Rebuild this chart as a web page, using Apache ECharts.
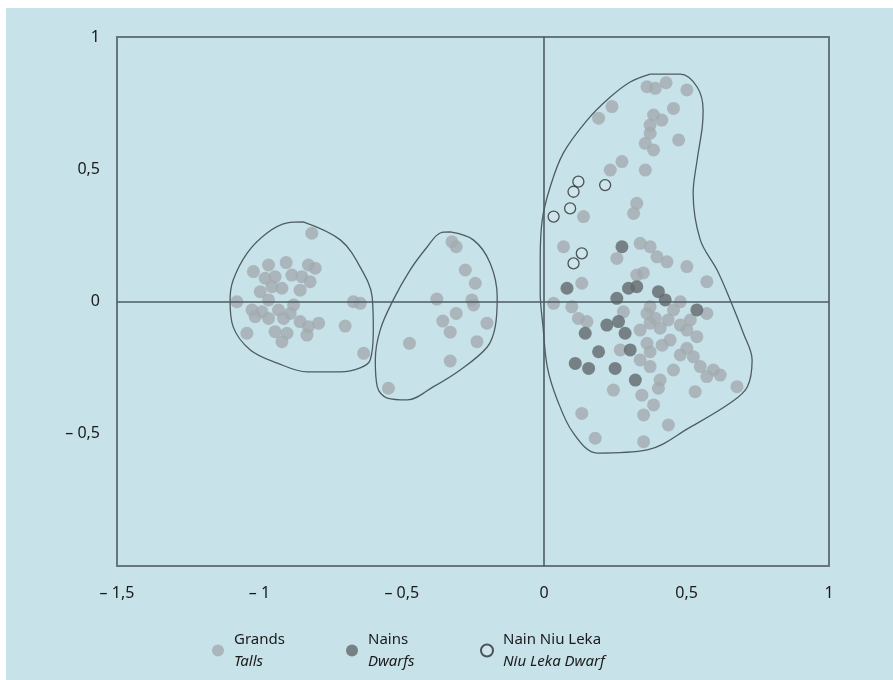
<!DOCTYPE html>
<html>
<head>
<meta charset="utf-8">
<script src="https://cdn.jsdelivr.net/npm/echarts@6/dist/echarts.min.js"></script>
<style>
  html, body { margin: 0; padding: 0; background: #ffffff; }
  #panel { position: absolute; left: 6px; top: 8px; right: 0; bottom: 0; background: #c8e2e9; }
  #chart { position: absolute; left: 0; top: 0; width: 893px; height: 680px; }
</style>
</head>
<body>
<div id="panel"></div>
<div id="chart"></div>
<script>
// Axis ticks and their printed labels (French decimal comma)
const xTicks = [-1.5, -1, -0.5, 0, 0.5, 1];
const xTickLabels = ['– 1,5', '– 1', '– 0,5', '0', '0,5', '1'];
const yTicks = [-1, -0.5, 0, 0.5, 1];
const yTickLabels = ['', '– 0,5', '0', '0,5', '1'];

// Groups: name and English subtitle for the legend
const groupNames = ['Grands', 'Nains', 'Nain Niu Leka'];
const groupSubtitles = ['Talls', 'Dwarfs', 'Niu Leka Dwarf'];

// Talls (coconut palms, tall type)
const talls = [
  // western group
  [-0.816, 0.258], [-1.021, 0.113], [-0.968, 0.138], [-0.906, 0.147], [-0.828, 0.138],
  [-0.804, 0.126], [-0.980, 0.088], [-0.945, 0.094], [-0.886, 0.100], [-0.851, 0.094],
  [-0.822, 0.075], [-0.997, 0.037], [-0.956, 0.056], [-0.921, 0.050], [-0.857, 0.043],
  [-1.079, -0.001], [-0.968, 0.006], [-0.880, -0.013], [-0.670, -0.001], [-0.646, -0.007],
  [-1.026, -0.032], [-0.991, -0.039], [-0.933, -0.032], [-0.892, -0.045], [-1.015, -0.057],
  [-0.968, -0.064], [-0.915, -0.064], [-0.857, -0.076], [-0.792, -0.082], [-0.828, -0.095],
  [-0.699, -0.093], [-1.044, -0.120], [-0.945, -0.114], [-0.903, -0.120], [-0.833, -0.127],
  [-0.921, -0.152], [-0.634, -0.196],
  // central group
  [-0.324, 0.226], [-0.309, 0.207], [-0.277, 0.119], [-0.242, 0.069], [-0.377, 0.009],
  [-0.254, 0.006], [-0.248, -0.013], [-0.309, -0.045], [-0.356, -0.074], [-0.201, -0.082],
  [-0.330, -0.116], [-0.473, -0.158], [-0.236, -0.152], [-0.330, -0.225], [-0.547, -0.328],
  // eastern group
  [0.361, 0.812], [0.390, 0.806], [0.428, 0.827], [0.501, 0.800], [0.238, 0.737],
  [0.191, 0.693], [0.384, 0.705], [0.454, 0.730], [0.372, 0.667], [0.413, 0.686],
  [0.372, 0.636], [0.472, 0.611], [0.355, 0.598], [0.384, 0.573], [0.273, 0.529],
  [0.232, 0.497], [0.355, 0.497], [0.325, 0.371], [0.314, 0.333], [0.138, 0.321],
  [0.068, 0.207], [0.337, 0.220], [0.372, 0.207], [0.255, 0.163], [0.396, 0.169],
  [0.431, 0.150], [0.501, 0.132], [0.571, 0.075], [0.132, 0.069], [0.325, 0.100],
  [0.348, 0.108],
  [0.033, -0.007], [0.097, -0.020], [0.120, -0.064], [0.150, -0.076], [0.278, -0.039],
  [0.372, -0.020], [0.361, -0.045], [0.454, -0.032], [0.478, -0.001], [0.571, -0.045],
  [0.372, -0.082], [0.407, -0.101], [0.337, -0.108], [0.478, -0.089], [0.501, -0.108],
  [0.536, -0.133], [0.361, -0.158], [0.442, -0.146], [0.501, -0.177], [0.372, -0.190],
  [0.478, -0.202], [0.524, -0.209], [0.267, -0.183], [0.337, -0.221], [0.372, -0.246],
  [0.454, -0.259], [0.548, -0.246], [0.594, -0.259], [0.618, -0.278], [0.571, -0.284],
  [0.407, -0.297], [0.401, -0.328], [0.243, -0.335], [0.343, -0.354], [0.530, -0.341],
  [0.677, -0.322], [0.384, -0.391], [0.132, -0.423], [0.349, -0.429], [0.436, -0.467],
  [0.179, -0.517], [0.349, -0.530],
  [0.390, -0.063], [0.435, -0.070], [0.414, -0.165], [0.513, -0.070]
];

// Dwarfs
const dwarfs = [
  [0.273, 0.207], [0.080, 0.050], [0.296, 0.050], [0.325, 0.056], [0.401, 0.037],
  [0.425, 0.006], [0.255, 0.012], [0.536, -0.032], [0.220, -0.089], [0.261, -0.076],
  [0.144, -0.120], [0.284, -0.120], [0.302, -0.183], [0.191, -0.190], [0.109, -0.234],
  [0.156, -0.253], [0.249, -0.253], [0.320, -0.297]
];

// Niu Leka dwarf
const niuLeka = [
  [0.120, 0.453], [0.103, 0.415], [0.214, 0.440], [0.091, 0.352], [0.033, 0.321],
  [0.132, 0.182], [0.103, 0.144]
];

// Outlines drawn around each group
const hullWest = [
  [-0.846, 0.301], [-0.716, 0.233], [-0.646, 0.130], [-0.604, 0.017], [-0.600, -0.108],
  [-0.611, -0.221], [-0.646, -0.251], [-0.716, -0.266], [-0.832, -0.266], [-0.937, -0.233],
  [-1.032, -0.183], [-1.092, -0.096], [-1.103, 0.006], [-1.092, 0.081], [-1.043, 0.183],
  [-0.973, 0.259], [-0.902, 0.297], [-0.846, 0.301]
];
const hullCentre = [
  [-0.330, 0.263], [-0.249, 0.233], [-0.190, 0.146], [-0.165, 0.017], [-0.172, -0.096],
  [-0.200, -0.172], [-0.295, -0.259], [-0.390, -0.323], [-0.481, -0.372], [-0.551, -0.365],
  [-0.586, -0.323], [-0.593, -0.221], [-0.576, -0.108], [-0.530, 0.006], [-0.471, 0.119],
  [-0.411, 0.206], [-0.365, 0.259], [-0.330, 0.263]
];
const hullEast = [
  [0.372, 0.860], [0.478, 0.860], [0.537, 0.811], [0.558, 0.724], [0.555, 0.659],
  [0.537, 0.535], [0.523, 0.410], [0.548, 0.233], [0.607, 0.119], [0.653, 0.006],
  [0.699, -0.119], [0.730, -0.221], [0.713, -0.323], [0.653, -0.384], [0.513, -0.475],
  [0.362, -0.561], [0.186, -0.573], [0.102, -0.497], [0.046, -0.372], [0.011, -0.248],
  [-0.004, -0.096], [-0.014, 0.032], [-0.014, 0.157], [-0.007, 0.308], [0.021, 0.433],
  [0.067, 0.561], [0.151, 0.686], [0.232, 0.773], [0.302, 0.830], [0.372, 0.860]
];

const FONT = '"Noto Sans", "Open Sans", sans-serif';
const LINE = '#4d5c62';

function legendFor(i, left) {
  return {
    data: [groupNames[i]],
    left: left,
    top: 627,
    orient: 'horizontal',
    icon: 'circle',
    itemWidth: 22,
    itemHeight: 12,
    selectedMode: false,
    formatter: name => '{a|' + name + '}\n{b|' + groupSubtitles[groupNames.indexOf(name)] + '}',
    textStyle: {
      fontFamily: FONT,
      color: '#1a1a1a',
      rich: {
        a: { fontFamily: FONT, fontSize: 15, color: '#1a1a1a', lineHeight: 22 },
        b: { fontFamily: FONT, fontSize: 15, fontStyle: 'italic', color: '#1a1a1a', lineHeight: 22 }
      }
    }
  };
}

function hullSeries(name, data) {
  return {
    name: name,
    type: 'line',
    data: data,
    smooth: 0.35,
    showSymbol: false,
    silent: true,
    z: 4,
    lineStyle: { color: LINE, width: 1.3 }
  };
}

const chart = echarts.init(document.getElementById('chart'), null, { renderer: 'canvas' });
chart.setOption({
  backgroundColor: 'transparent',
  animation: false,
  grid: {
    left: 117, right: 64, top: 37, bottom: 114,
    show: true, borderColor: '#66767c', borderWidth: 2, backgroundColor: 'transparent'
  },
  legend: [legendFor(0, 207), legendFor(1, 341), legendFor(2, 475)],
  xAxis: {
    type: 'value',
    min: xTicks[0], max: xTicks[xTicks.length - 1], interval: 0.5,
    axisLine: { show: false }, axisTick: { show: false }, splitLine: { show: false },
    axisLabel: {
      margin: 19, fontFamily: FONT, fontSize: 16, color: '#1a1a1a',
      formatter: v => xTickLabels[Math.round((v - xTicks[0]) / 0.5)]
    }
  },
  yAxis: {
    type: 'value',
    min: yTicks[0], max: yTicks[yTicks.length - 1], interval: 0.5,
    axisLine: { show: false }, axisTick: { show: false }, splitLine: { show: false },
    axisLabel: {
      margin: 17, fontFamily: FONT, fontSize: 16, color: '#1a1a1a',
      formatter: v => yTickLabels[Math.round((v - yTicks[0]) / 0.5)]
    }
  },
  series: [
    {
      name: groupNames[0], type: 'scatter', data: talls, symbol: 'circle', symbolSize: 13, z: 2,
      itemStyle: { color: '#a3abaf' },
      markLine: {
        silent: true, symbol: 'none', label: { show: false },
        lineStyle: { color: LINE, width: 1.6, type: 'solid' },
        data: [{ xAxis: 0 }, { yAxis: 0 }]
      }
    },
    {
      name: groupNames[1], type: 'scatter', data: dwarfs, symbol: 'circle', symbolSize: 13, z: 3,
      itemStyle: { color: '#62696d' }
    },
    {
      name: groupNames[2], type: 'scatter', data: niuLeka, symbol: 'circle', symbolSize: 11, z: 5,
      itemStyle: { color: 'rgba(255,255,255,0.15)', borderColor: '#2b3033', borderWidth: 1.3 }
    },
    hullSeries('hullWest', hullWest),
    hullSeries('hullCentre', hullCentre),
    hullSeries('hullEast', hullEast)
  ]
});
</script>
</body>
</html>
